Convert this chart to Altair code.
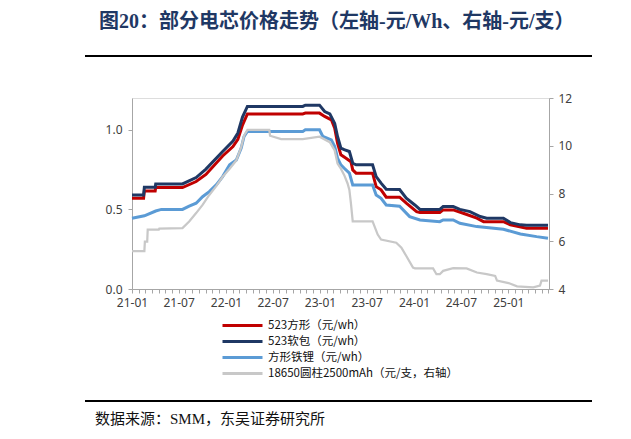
import altair as alt
import pandas as pd

# ---------------- data ----------------
series_names = ["523方形（元/wh）", "523软包（元/wh）", "方形铁锂（元/wh）",
                "18650圆柱2500mAh（元/支，右轴）"]
series_colors = ["#C00000", "#1F3864", "#5B9BD5", "#C8C8C8"]

red_dates = ["2021-01-01", "2021-02-15", "2021-02-18", "2021-04-01", "2021-04-03",
             "2021-07-16", "2021-09-07", "2021-10-15", "2021-12-19", "2022-01-28",
             "2022-02-16", "2022-03-06", "2022-03-25", "2022-10-26", "2022-11-05",
             "2022-12-30", "2023-01-19", "2023-02-14", "2023-02-27", "2023-03-10",
             "2023-03-23", "2023-04-12", "2023-05-01", "2023-05-08", "2023-05-21",
             "2023-07-24", "2023-08-07", "2023-08-26", "2023-09-15", "2023-11-06",
             "2023-12-02", "2024-01-11", "2024-01-24", "2024-04-10", "2024-04-23",
             "2024-06-01", "2024-07-10", "2024-09-01", "2024-09-27", "2024-12-13",
             "2025-01-09", "2025-03-13", "2025-06-04"]
red_values = [0.57, 0.57, 0.616, 0.616, 0.637,
              0.637, 0.675, 0.72, 0.836, 0.895,
              0.94, 1.03, 1.10, 1.10, 1.105,
              1.105, 1.084, 1.063, 1.01, 0.916,
              0.843, 0.822, 0.80, 0.748, 0.728,
              0.728, 0.643, 0.623, 0.577, 0.577,
              0.539, 0.486, 0.48, 0.48, 0.497,
              0.497, 0.476, 0.445, 0.423, 0.423,
              0.403, 0.382, 0.382]

navy_dates = ["2021-01-01", "2021-02-15", "2021-02-18", "2021-04-01", "2021-04-03",
              "2021-07-16", "2021-09-07", "2021-10-15", "2021-12-19", "2022-01-28",
              "2022-02-16", "2022-03-06", "2022-03-25", "2022-10-26", "2022-11-05",
              "2022-12-30", "2023-01-19", "2023-02-08", "2023-02-27", "2023-03-10",
              "2023-03-23", "2023-04-05", "2023-04-25", "2023-05-08", "2023-05-21",
              "2023-07-24", "2023-08-07", "2023-08-26", "2023-09-15", "2023-11-06",
              "2023-12-02", "2024-01-04", "2024-01-24", "2024-04-10", "2024-04-23",
              "2024-06-01", "2024-06-27", "2024-08-05", "2024-09-14", "2024-10-09",
              "2024-12-13", "2025-01-09", "2025-02-17", "2025-03-13", "2025-06-04"]
navy_values = [0.59, 0.59, 0.64, 0.64, 0.66,
               0.66, 0.70, 0.753, 0.864, 0.93,
               0.98, 1.08, 1.147, 1.147, 1.155,
               1.155, 1.115, 1.10, 1.04, 0.958,
               0.885, 0.875, 0.864, 0.79, 0.78,
               0.78, 0.706, 0.665, 0.627, 0.625,
               0.57, 0.528, 0.50, 0.50, 0.518,
               0.518, 0.50, 0.486, 0.455, 0.445,
               0.445, 0.417, 0.403, 0.40, 0.40]

blue_dates = ["2021-01-01", "2021-02-18", "2021-04-03", "2021-04-25", "2021-07-16",
              "2021-08-11", "2021-09-07", "2021-10-02", "2021-10-28", "2021-11-24",
              "2021-12-19", "2022-01-15", "2022-02-10", "2022-03-01", "2022-03-12",
              "2022-03-25", "2022-10-26", "2022-11-05", "2022-12-30", "2023-01-12",
              "2023-02-14", "2023-02-27", "2023-03-10", "2023-03-23", "2023-04-05",
              "2023-04-25", "2023-05-08", "2023-07-24", "2023-08-07", "2023-08-26",
              "2023-09-15", "2023-11-06", "2023-12-15", "2024-01-24", "2024-04-10",
              "2024-04-23", "2024-06-01", "2024-06-27", "2024-09-01", "2024-12-13",
              "2025-02-17", "2025-04-21", "2025-06-04"]
blue_values = [0.445, 0.46, 0.49, 0.50, 0.50,
               0.52, 0.539, 0.58, 0.612, 0.654,
               0.706, 0.78, 0.81, 0.885, 0.958,
               0.99, 0.99, 1.0, 1.0, 0.958,
               0.937, 0.895, 0.822, 0.78, 0.759,
               0.728, 0.654, 0.654, 0.591, 0.57,
               0.528, 0.52, 0.455, 0.434, 0.423,
               0.434, 0.434, 0.413, 0.392, 0.375,
               0.346, 0.329, 0.319]

gray_dates = ["2021-01-01", "2021-02-18", "2021-02-20", "2021-03-01", "2021-03-03",
              "2021-04-15", "2021-04-17", "2021-07-16", "2021-08-11", "2021-09-07",
              "2021-10-02", "2021-10-28", "2021-11-24", "2021-12-19", "2022-01-15",
              "2022-02-10", "2022-03-01", "2022-03-12", "2022-03-25", "2022-06-18",
              "2022-06-21", "2022-08-03", "2022-10-26", "2022-12-30", "2023-02-08",
              "2023-02-27", "2023-03-10", "2023-03-23", "2023-04-05", "2023-04-18",
              "2023-04-25", "2023-05-01", "2023-05-08", "2023-07-24", "2023-08-13",
              "2023-08-26", "2023-10-24", "2023-11-13", "2023-12-02", "2023-12-28",
              "2024-01-05", "2024-03-15", "2024-03-28", "2024-04-10", "2024-04-23",
              "2024-06-01", "2024-07-23", "2024-09-01", "2024-10-09", "2024-11-11",
              "2024-11-18", "2025-01-02", "2025-02-04", "2025-04-08", "2025-05-04",
              "2025-05-10", "2025-06-04"]
gray_values = [5.59, 5.59, 5.98, 5.98, 6.49,
               6.49, 6.53, 6.55, 6.83, 7.18,
               7.52, 7.94, 8.31, 8.70, 9.04,
               9.39, 9.94, 10.42, 10.66, 10.66,
               10.42, 10.28, 10.28, 10.38, 10.15,
               9.80, 9.25, 9.04, 8.77, 8.42,
               8.15, 7.59, 6.83, 6.83, 6.28,
               6.07, 5.94, 5.73, 5.38, 4.90,
               4.86, 4.86, 4.62, 4.62, 4.76,
               4.87, 4.86, 4.69, 4.62, 4.55,
               4.35, 4.25, 4.11, 4.07, 4.14,
               4.35, 4.35]

left_ticks = [0.0, 0.5, 1.0]
right_ticks = [4, 6, 8, 10, 12]

title_text = "图20：部分电芯价格走势（左轴-元/Wh、右轴-元/支）"
source_text = "数据来源：SMM，东吴证券研究所"

# ---------------- helpers ----------------
def frame(name, dates, values):
    return pd.DataFrame({"date": dates, "value": values, "series": name})

def ms(s):
    return int(pd.Timestamp(s, tz="UTC").value // 10**6)

x_domain = [ms("2021-01-01"), ms("2025-06-08")]

# minor ticks: each half-year split into 7 parts
halves = pd.date_range("2021-01-01", "2025-07-01", freq="6MS", tz="UTC")
tick_ms = []
for a, b in zip(halves[:-1], halves[1:]):
    a_ms, b_ms = a.value // 10**6, b.value // 10**6
    for k in range(7):
        t = int(a_ms + k * (b_ms - a_ms) / 7)
        if t <= x_domain[1]:
            tick_ms.append(t)

FONT = "Noto Sans"
CJK = "Noto Sans CJK SC"
SERIF_CJK = "Liberation Serif, Noto Sans CJK SC"
AXIS_GRAY = "#A6A6A6"

x_axis = alt.Axis(values=tick_ms, title=None, grid=False, orient="bottom",
                  labelExpr="(utcdate(datum.value)==1 && utchours(datum.value)==0 && utcmonth(datum.value)%6==0) ? utcFormat(datum.value, '%y-%m') : ''",
                  labelOverlap=False, labelFlush=False, labelFont=FONT, labelFontSize=12,
                  labelColor="#404040", labelPadding=4, tickSize=4, tickColor=AXIS_GRAY,
                  domainColor=AXIS_GRAY)
x_scale = alt.Scale(type="utc", domain=x_domain, nice=False)
color_scale = alt.Scale(domain=series_names, range=series_colors)

def line(df, y_enc, width):
    return alt.Chart(df).mark_line(strokeWidth=width).encode(
        x=alt.X("date:T", scale=x_scale, axis=x_axis),
        y=y_enc,
        color=alt.Color("series:N", scale=color_scale, sort=series_names,
                        legend=alt.Legend(title=None, orient="none", legendX=89, legendY=220,
                                          symbolType="stroke", symbolSize=1600,
                                          symbolStrokeWidth=3, clipHeight=15.2, rowPadding=0,
                                          labelFont=CJK, labelFontSize=11.5, labelColor="#111111",
                                          labelLimit=0, labelOffset=4, padding=0)),
    )

y_left = alt.Y("value:Q", scale=alt.Scale(domain=[0, 1.2], nice=False, zero=False),
               axis=alt.Axis(values=left_ticks, format=".1f", orient="left", title=None,
                             grid=False, labelFont=FONT, labelFontSize=12, labelColor="#404040",
                             labelPadding=6, tickSize=4, tickColor=AXIS_GRAY,
                             domainColor=AXIS_GRAY))
y_right = alt.Y("value:Q", scale=alt.Scale(domain=[4, 12], nice=False, zero=False),
                axis=alt.Axis(values=right_ticks, format="d", orient="right", title=None,
                              grid=False, labelFont=FONT, labelFontSize=12, labelColor="#404040",
                              labelPadding=5, tickSize=4, tickColor=AXIS_GRAY,
                              domainColor=AXIS_GRAY))

left_group = alt.layer(
    line(frame(series_names[0], red_dates, red_values), y_left, 3),
    line(frame(series_names[1], navy_dates, navy_values), y_left, 3),
    line(frame(series_names[2], blue_dates, blue_values), y_left, 3),
)
gray_line = line(frame(series_names[3], gray_dates, gray_values), y_right, 2.25)

one = pd.DataFrame({"k": [0]})
title_mark = alt.Chart(one).mark_text(align="left", baseline="alphabetic", font=SERIF_CJK,
                                      fontSize=20, fontWeight="bold", color="#1F3864").encode(
    x=alt.value(-33), y=alt.value(-70.5), text=alt.value(title_text))
top_rule = alt.Chart(one).mark_rule(color="#000000", strokeWidth=2).encode(
    x=alt.value(-47), x2=alt.value(460), y=alt.value(-42))
bottom_rule = alt.Chart(one).mark_rule(color="#000000", strokeWidth=2).encode(
    x=alt.value(-47), x2=alt.value(460), y=alt.value(303))
source_mark = alt.Chart(one).mark_text(align="left", baseline="middle", font=SERIF_CJK,
                                       fontSize=15, color="#111111").encode(
    x=alt.value(-37), y=alt.value(321), text=alt.value(source_text))

chart = alt.layer(left_group, gray_line, title_mark, top_rule, bottom_rule, source_mark).resolve_scale(
    y="independent"
).properties(
    width=417, height=191,
    autosize=alt.AutoSizeParams(type="none"),
    padding={"left": 124, "top": 90, "right": 74, "bottom": 142},
).configure_view(stroke=None).configure(background="white")

chart.save("out.html", embed_options={"renderer": "svg", "actions": False})
